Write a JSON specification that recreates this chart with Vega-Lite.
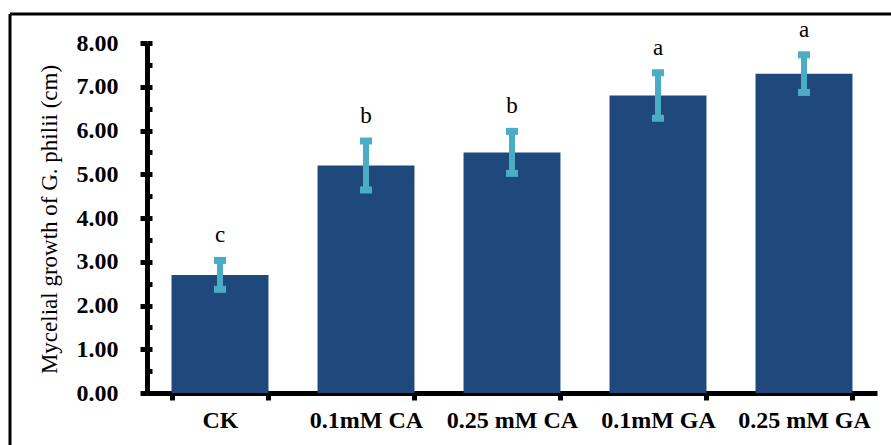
{
  "$schema": "https://vega.github.io/schema/vega-lite/v6.json",
  "width": 881,
  "height": 431,
  "autosize": {"type": "none"},
  "padding": {"left": 10, "top": 14, "right": 0, "bottom": 0},
  "background": "white",
  "config": {
    "view": {"stroke": "black", "strokeWidth": 3, "strokeDash": [881, 1312, 431, 0]},
    "font": "Liberation Serif"
  },
  "data": {
    "values": [
      {"cat": "CK", "mean": 2.70, "low": 2.37, "high": 3.03, "letter": "c"},
      {"cat": "0.1mM CA", "mean": 5.20, "low": 4.64, "high": 5.76, "letter": "b"},
      {"cat": "0.25 mM CA", "mean": 5.50, "low": 5.02, "high": 5.98, "letter": "b"},
      {"cat": "0.1mM GA", "mean": 6.80, "low": 6.28, "high": 7.32, "letter": "a"},
      {"cat": "0.25 mM GA", "mean": 7.30, "low": 6.87, "high": 7.73, "letter": "a"}
    ]
  },
  "encoding": {
    "x": {
      "field": "cat", "type": "nominal", "sort": null,
      "scale": {"range": [137, 867], "paddingInner": 0.336, "paddingOuter": 0.168},
      "axis": {
        "title": null, "orient": "bottom", "offset": -52, "labelAngle": 0,
        "tickBand": "extent", "tickSize": 7, "tickWidth": 5, "tickColor": "black",
        "domainColor": "black", "domainWidth": 5,
        "labelFont": "Liberation Serif", "labelFontWeight": "bold", "labelFontSize": 24,
        "labelColor": "black", "labelPadding": 8, "grid": false
      }
    }
  },
  "resolve": {"axis": {"y": "independent"}},
  "layer": [
    {
      "mark": {"type": "bar", "color": "#1F497D"},
      "encoding": {
        "y": {
          "field": "mean", "type": "quantitative",
          "scale": {"domain": [0, 8], "range": [379, 29], "nice": false, "zero": false},
          "axis": {
            "orient": "left", "offset": -137, "values": [0, 1, 2, 3, 4, 5, 6, 7, 8],
            "format": ".2f", "grid": false,
            "tickSize": 7, "tickWidth": 5, "tickColor": "black",
            "domainColor": "black", "domainWidth": 5,
            "labelFont": "Liberation Serif", "labelFontWeight": "bold", "labelFontSize": 24,
            "labelColor": "black", "labelPadding": 22,
            "title": "Mycelial growth of G. philii (cm)",
            "titleFont": "Liberation Serif", "titleFontWeight": "normal", "titleFontSize": 23,
            "titleColor": "black", "titleX": -98, "titleY": 205, "titleBaseline": "middle",
            "titleAngle": -90, "titleAlign": "center"
          }
        }
      }
    },
    {
      "mark": {"type": "rule", "color": "#4BACC6", "strokeWidth": 6},
      "encoding": {
        "y": {
          "field": "low", "type": "quantitative",
          "axis": {
            "orient": "left", "offset": -137,
            "values": [0, 0.5, 1, 1.5, 2, 2.5, 3, 3.5, 4, 4.5, 5, 5.5, 6, 6.5, 7, 7.5, 8],
            "labels": false, "domain": false, "grid": false, "title": null,
            "tickSize": -5, "tickWidth": 5, "tickColor": "black"
          }
        },
        "y2": {"field": "high"}
      }
    },
    {
      "mark": {"type": "tick", "color": "#4BACC6", "size": 12, "thickness": 7, "opacity": 1},
      "encoding": {"y": {"field": "low", "type": "quantitative", "axis": null}}
    },
    {
      "mark": {"type": "tick", "color": "#4BACC6", "size": 12, "thickness": 7, "opacity": 1},
      "encoding": {"y": {"field": "high", "type": "quantitative", "axis": null}}
    },
    {
      "mark": {"type": "text", "font": "Liberation Serif", "fontSize": 23, "color": "black", "baseline": "alphabetic", "dy": -18},
      "encoding": {
        "y": {"field": "high", "type": "quantitative", "axis": null},
        "text": {"field": "letter"}
      }
    }
  ]
}
